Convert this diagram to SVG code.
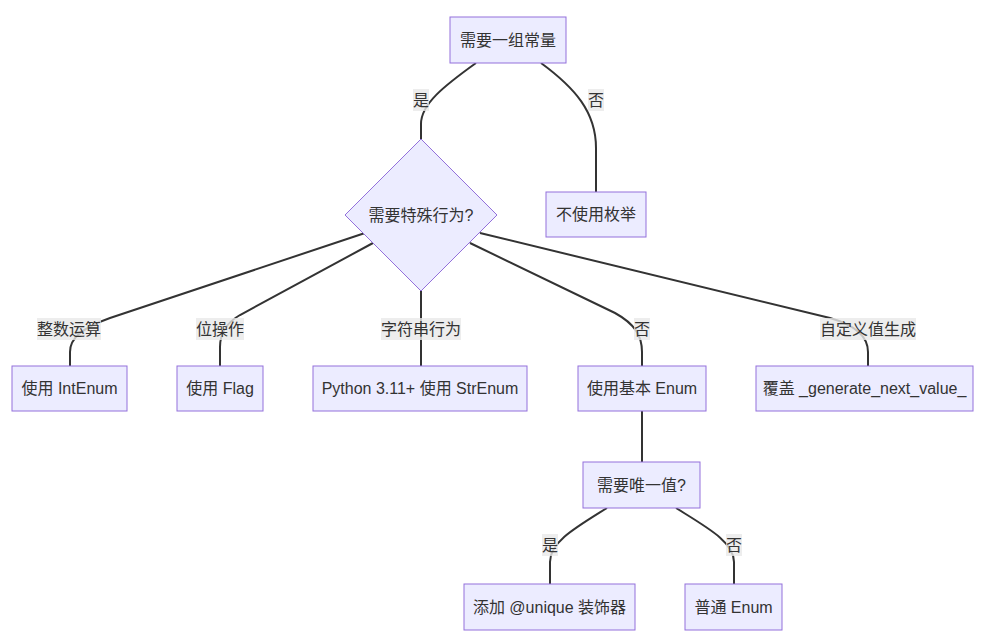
<svg xmlns="http://www.w3.org/2000/svg" width="989" height="638" viewBox="0 0 989 638">
<style>
.node rect, .node polygon { fill: #ECECFF; stroke: #9370DB; stroke-width: 1; }
.node text, .lbl text { font-family: "Liberation Sans", "Noto Sans CJK SC", sans-serif; font-size: 16px; fill: #333333; text-anchor: middle; dominant-baseline: central; }
.edge { fill: none; stroke: #333333; stroke-width: 2; }
.lbl rect { fill: #e8e8e8; fill-opacity: 0.8; }
</style>
<rect width="989" height="638" fill="#ffffff"/>
<g id="connectors">
<path class="edge" d="M476,63 C444,86 421,104 421,124 L421,139"/>
<path class="edge" d="M541,63 C575,88 596,112 596,148 L596,192"/>
<path class="edge" d="M365,233 L110,318 C82,328 70,338 70,352 L70,366"/>
<path class="edge" d="M373,243 L240,315 C226,323 220,333 220,347 L220,366"/>
<path class="edge" d="M421,291 L421,366"/>
<path class="edge" d="M470,243 L615,313 C635,324 642,336 642,352 L642,366"/>
<path class="edge" d="M480,233 L830,318 C858,326 868,338 868,352 L868,366"/>
<path class="edge" d="M642,411 L642,462"/>
<path class="edge" d="M607,508 C575,528 550,542 550,562 L550,584"/>
<path class="edge" d="M676,508 C708,528 734,542 734,562 L734,584"/>
</g>
<g id="edge-labels">
<g class="lbl"><rect x="413" y="89" width="16" height="22"/><text x="421" y="100">是</text></g>
<g class="lbl"><rect x="588" y="89" width="16" height="22"/><text x="596" y="100">否</text></g>
<g class="lbl"><rect x="37" y="318" width="64" height="22"/><text x="69" y="329">整数运算</text></g>
<g class="lbl"><rect x="196" y="318" width="48" height="22"/><text x="220" y="329">位操作</text></g>
<g class="lbl"><rect x="381" y="318" width="80" height="22"/><text x="421" y="329">字符串行为</text></g>
<g class="lbl"><rect x="634" y="318" width="16" height="22"/><text x="642" y="329">否</text></g>
<g class="lbl"><rect x="820" y="318" width="96" height="22"/><text x="868" y="329">自定义值生成</text></g>
<g class="lbl"><rect x="542" y="534" width="16" height="22"/><text x="550" y="545">是</text></g>
<g class="lbl"><rect x="726" y="534" width="16" height="22"/><text x="734" y="545">否</text></g>
</g>
<g id="n-need-constants" class="node"><rect x="450" y="17" width="116" height="46"/><text x="508" y="40">需要一组常量</text></g>
<g id="n-no-enum" class="node"><rect x="546" y="192" width="100" height="45"/><text x="596" y="214.5">不使用枚举</text></g>
<g id="n-special" class="node"><polygon points="421,139 497,215 421,291 345,215"/><text x="421" y="215">需要特殊行为?</text></g>
<g id="n-intenum" class="node"><rect x="12" y="366" width="115" height="45"/><text x="69.5" y="388.5">使用 IntEnum</text></g>
<g id="n-flag" class="node"><rect x="177" y="366" width="86" height="45"/><text x="220" y="388.5">使用 Flag</text></g>
<g id="n-strenum" class="node"><rect x="313" y="366" width="214" height="45"/><text x="420" y="388.5">Python 3.11+ 使用 StrEnum</text></g>
<g id="n-basic" class="node"><rect x="578" y="366" width="128" height="45"/><text x="642" y="388.5">使用基本 Enum</text></g>
<g id="n-generate" class="node"><rect x="756" y="366" width="217" height="45"/><text x="864.5" y="388.5">覆盖 _generate_next_value_</text></g>
<g id="n-unique-q" class="node"><rect x="583" y="462" width="117" height="46"/><text x="641.5" y="485">需要唯一值?</text></g>
<g id="n-unique" class="node"><rect x="464" y="584" width="171" height="46"/><text x="549.5" y="607">添加 @unique 装饰器</text></g>
<g id="n-plain" class="node"><rect x="685" y="584" width="97" height="46"/><text x="733.5" y="607">普通 Enum</text></g>
</svg>
